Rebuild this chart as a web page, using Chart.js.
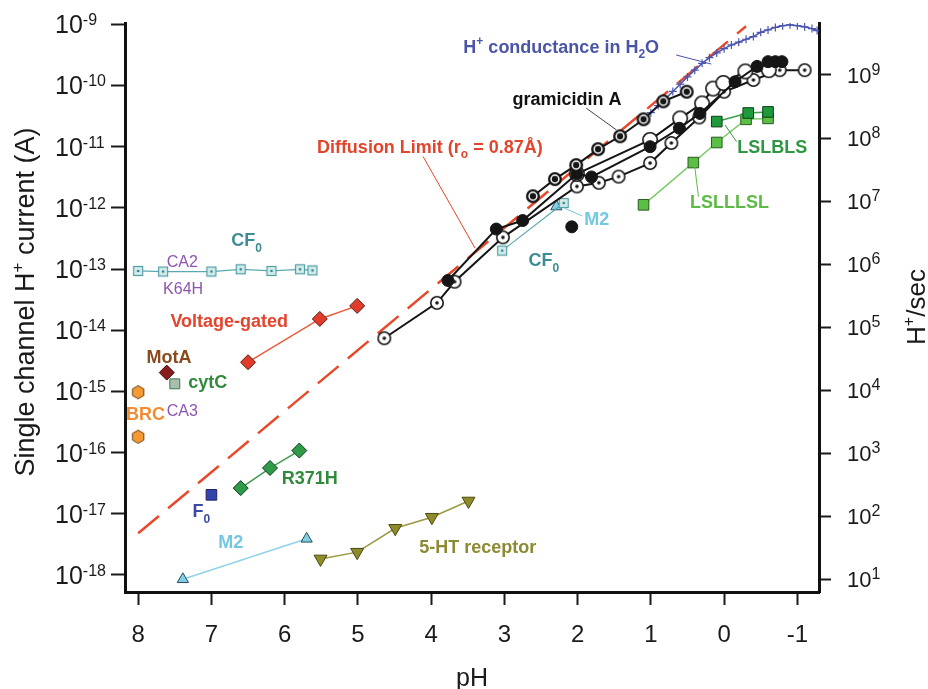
<!DOCTYPE html>
<html>
<head>
<meta charset="utf-8">
<script src="https://cdn.jsdelivr.net/npm/chart.js@4.4.0/dist/chart.umd.min.js"></script>
<style>html,body{margin:0;padding:0;background:#fff}</style>
</head>
<body>
<canvas id="myChart" width="928" height="689"></canvas>
<script>
// axes
const phTicks = [8, 7, 6, 5, 4, 3, 2, 1, 0, -1];
const ampExps = [-18, -17, -16, -15, -14, -13, -12, -11, -10, -9];
const rateExps = [1, 2, 3, 4, 5, 6, 7, 8, 9];

// series: pH and single channel current (A)
const cf0PH = [8.0, 7.66, 7.0, 6.6, 6.18, 5.79, 5.62];
const cf0Amp = [9.3e-14, 9.1e-14, 9.1e-14, 9.9e-14, 9.3e-14, 9.9e-14, 9.5e-14];
const cf0AcidPH = [3.03, 2.19];
const cf0AcidAmp = [2.0e-13, 1.2e-12];
const voltPH = [6.5, 5.52, 5.01];
const voltAmp = [3.0e-15, 1.53e-14, 2.5e-14];
const motaPH = [7.61];
const motaAmp = [2.03e-15];
const cytcPH = [7.5];
const cytcAmp = [1.33e-15];
const brcPH = [8.0, 8.0];
const brcAmp = [9.7e-16, 1.82e-16];
const f0PH = [7.0];
const f0Amp = [2.04e-17];
const r371hPH = [6.6, 6.2, 5.8];
const r371hAmp = [2.63e-17, 5.6e-17, 1.08e-16];
const m2PH = [7.39, 5.7];
const m2Amp = [8.5e-19, 3.9e-18];
const m2AcidPH = [2.29];
const m2AcidAmp = [1.05e-12];
const htPH = [5.51, 5.01, 4.49, 3.99, 3.49];
const htAmp = [1.83e-18, 2.36e-18, 5.8e-18, 8.8e-18, 1.62e-17];
const diffPH = [8.0, -0.3];
const diffAmp = [4.8e-18, 9.3e-10];
const waterPH = [1.0, 0.9, 0.8, 0.7, 0.6, 0.5, 0.4, 0.3, 0.2, 0.1, 0.0, -0.1, -0.2, -0.3, -0.4, -0.5, -0.6, -0.7, -0.8, -0.9, -1.0, -1.1, -1.2, -1.27];
const waterAmp = [3.6e-11, 4.7e-11, 6.1e-11, 8.0e-11, 1.05e-10, 1.38e-10, 1.78e-10, 2.3e-10, 2.85e-10, 3.4e-10, 4.0e-10, 4.6e-10, 5.1e-10, 5.7e-10, 6.3e-10, 7.4e-10, 8.1e-10, 8.9e-10, 9.5e-10, 9.8e-10, 9.5e-10, 9.1e-10, 8.5e-10, 7.9e-10];
const gramPH = [2.61, 2.31, 2.02, 1.72, 1.42, 1.10, 0.83, 0.51];
const gramAmp = [1.55e-12, 2.95e-12, 5.0e-12, 9.1e-12, 1.48e-11, 2.8e-11, 5.5e-11, 7.9e-11];
const gramDotPH = [4.64, 3.92, 3.68, 3.02, 2.01, 1.71, 1.44, 1.01, 0.72, 0.34, 0.0, -0.4, -0.76, -1.1];
const gramDotAmp = [7.4e-15, 2.8e-14, 6.2e-14, 3.3e-13, 2.24e-12, 2.57e-12, 3.24e-12, 5.4e-12, 1.15e-11, 3.0e-11, 7.9e-11, 1.23e-10, 1.78e-10, 1.78e-10];
const gramFillPH = [3.77, 3.11, 2.75, 2.01, 1.81, 1.01, 0.61, 0.33, -0.15, -0.45, -0.6, -0.7, -0.79];
const gramFillAmp = [6.5e-14, 4.5e-13, 6.2e-13, 3.6e-12, 3.2e-12, 1.0e-11, 2.0e-11, 3.5e-11, 1.15e-10, 2.05e-10, 2.45e-10, 2.45e-10, 2.45e-10];
const gramOpenPH = [2.01, 1.01, 0.6, 0.3, 0.15, 0.01, -0.29, -0.61];
const gramOpenAmp = [3.6e-12, 1.29e-11, 2.9e-11, 5.1e-11, 8.9e-11, 1.1e-10, 1.7e-10, 1.78e-10];
const gramLonePH = [2.08];
const gramLoneAmp = [4.9e-13];
const lslllslPH = [1.1, 0.42, 0.1, -0.3, -0.6];
const lslllslAmp = [1.12e-12, 5.5e-12, 1.17e-11, 2.8e-11, 2.9e-11];
const lslblsPH = [0.1, -0.33, -0.6];
const lslblsAmp = [2.57e-11, 3.55e-11, 3.7e-11];

const FONT = '"Liberation Sans", Arial, Helvetica, sans-serif';

function pts(ph, amp) {
  return ph.map((v, i) => ({ x: v, y: amp[i] }));
}

function mk(size, draw) {
  const c = document.createElement('canvas');
  c.width = c.height = size;
  draw(c.getContext('2d'), size / 2);
  return c;
}

const bullseye = mk(16, (g, c) => {
  g.fillStyle = '#151515'; g.beginPath(); g.arc(c, c, 7, 0, 2 * Math.PI); g.fill();
  g.strokeStyle = '#fff'; g.lineWidth = 1.5; g.beginPath(); g.arc(c, c, 3.9, 0, 2 * Math.PI); g.stroke();
});
const dotOpen = mk(16, (g, c) => {
  g.fillStyle = '#fff'; g.strokeStyle = '#151515'; g.lineWidth = 1.6;
  g.beginPath(); g.arc(c, c, 6.2, 0, 2 * Math.PI); g.fill(); g.stroke();
  g.fillStyle = '#151515'; g.beginPath(); g.arc(c, c, 1.8, 0, 2 * Math.PI); g.fill();
});
const plainOpen = mk(18, (g, c) => {
  g.fillStyle = '#fff'; g.strokeStyle = '#151515'; g.lineWidth = 1.6;
  g.beginPath(); g.arc(c, c, 7.2, 0, 2 * Math.PI); g.fill(); g.stroke();
});
const cf0Pt = mk(12, (g, c) => {
  g.fillStyle = '#d4ecec'; g.strokeStyle = '#4f9ea6'; g.lineWidth = 1.2;
  g.fillRect(1.5, 1.5, 9, 9); g.strokeRect(1.5, 1.5, 9, 9);
  g.fillStyle = '#2f7f88'; g.beginPath(); g.arc(c, c, 1.3, 0, 2 * Math.PI); g.fill();
});
const hexPt = mk(16, (g, c) => {
  g.fillStyle = '#f39a32'; g.strokeStyle = '#6a4010'; g.lineWidth = 1;
  g.beginPath();
  for (let k = 0; k < 6; k++) {
    const a = Math.PI / 6 + k * Math.PI / 3;
    const px = c + 6.6 * Math.cos(a), py = c + 6.6 * Math.sin(a);
    if (k === 0) g.moveTo(px, py); else g.lineTo(px, py);
  }
  g.closePath(); g.fill(); g.stroke();
});

function series(ph, amp, o) {
  return Object.assign({
    data: pts(ph, amp), showLine: true, borderWidth: 1.5, pointRadius: 6,
    pointBorderWidth: 1
  }, o);
}

const datasets = [
  series(gramPH, gramAmp, { borderColor: '#151515', borderWidth: 2, pointStyle: bullseye }),
  series(gramFillPH, gramFillAmp, { borderColor: '#151515', borderWidth: 2, pointStyle: 'circle', pointRadius: 6, pointBackgroundColor: '#151515', pointBorderColor: '#151515' }),
  series(gramOpenPH, gramOpenAmp, { borderColor: '#151515', borderWidth: 2, pointStyle: plainOpen }),
  series(gramDotPH, gramDotAmp, { borderColor: '#151515', borderWidth: 2, pointStyle: dotOpen }),
  series(gramLonePH, gramLoneAmp, { showLine: false, pointStyle: 'circle', pointRadius: 6, pointBackgroundColor: '#151515', pointBorderColor: '#151515' }),
  series(lslblsPH, lslblsAmp, { borderColor: '#3aa050', pointStyle: 'rect', pointRadius: 7.5, pointBackgroundColor: '#1f9a3a', pointBorderColor: '#0c3f18' }),
  series(lslllslPH, lslllslAmp, { borderColor: '#7ccc6a', pointStyle: 'rect', pointRadius: 7.5, pointBackgroundColor: '#5cbf45', pointBorderColor: '#2a5a20' }),
  series(waterPH, waterAmp, { borderColor: '#4a55b0', pointStyle: 'cross', pointRadius: 4, pointBorderColor: '#4a55b0', pointBorderWidth: 1.2 }),
  series(cf0AcidPH, cf0AcidAmp, { borderColor: '#5aa8b0', borderWidth: 1.2, pointStyle: cf0Pt }),
  series(m2AcidPH, m2AcidAmp, { showLine: false, pointStyle: 'triangle', pointRadius: 6.5, pointBackgroundColor: '#7fcfe6', pointBorderColor: '#2a4a5a' }),
  series(cf0PH, cf0Amp, { borderColor: '#5aa8b0', borderWidth: 1.2, pointStyle: cf0Pt }),
  series(voltPH, voltAmp, { borderColor: '#ea5a3c', pointStyle: 'rectRot', pointRadius: 7.5, pointBackgroundColor: '#e03b2b', pointBorderColor: '#5a1a10' }),
  series(motaPH, motaAmp, { showLine: false, pointStyle: 'rectRot', pointRadius: 7.5, pointBackgroundColor: '#8a1c1c', pointBorderColor: '#3a0a0a' }),
  series(cytcPH, cytcAmp, { showLine: false, pointStyle: 'rect', pointRadius: 7, pointBackgroundColor: '#a8bfb0', pointBorderColor: '#3a7a4a' }),
  series(brcPH, brcAmp, { showLine: false, pointStyle: hexPt }),
  series(f0PH, f0Amp, { showLine: false, pointStyle: 'rect', pointRadius: 7.5, pointBackgroundColor: '#3344aa', pointBorderColor: '#222266' }),
  series(r371hPH, r371hAmp, { borderColor: '#3f9a4f', pointStyle: 'rectRot', pointRadius: 7.5, pointBackgroundColor: '#2f9a48', pointBorderColor: '#0f3a1a' }),
  series(m2PH, m2Amp, { borderColor: '#8fd3ea', pointStyle: 'triangle', pointRadius: 6.5, pointBackgroundColor: '#7fcfe6', pointBorderColor: '#2a4a5a' }),
  series(htPH, htAmp, { borderColor: '#9a9a40', pointStyle: 'triangle', pointRotation: 180, pointRadius: 7.5, pointBackgroundColor: '#8e8c2a', pointBorderColor: '#4a4a10' }),
  series(diffPH, diffAmp, { borderColor: '#e8492a', borderWidth: 2.5, borderDash: [27, 12], pointRadius: 0 })
];

// text labels and leader lines, placed at (pH, current)
const labels = [
  { t: [['H', 18, 0], ['+', 12, -8], [' conductance in H', 18, 0], ['2', 12, 5], ['O', 18, 0]], ph: 3.56, amp: 3.43e-10, c: '#4a55a8' },
  { t: [['gramicidin A', 18, 0]], ph: 2.89, amp: 4.8e-11, c: '#111' },
  { t: [['Diffusion Limit (r', 18, 0], ['o', 12, 5], [' = 0.87\u00C5)', 18, 0]], ph: 5.56, amp: 8.0e-12, c: '#e2452c' },
  { t: [['M2', 18, 0]], ph: 1.91, amp: 5.2e-13, c: '#72c8e2' },
  { t: [['CF', 18, 0], ['0', 12, 6]], ph: 2.67, amp: 1.12e-13, c: '#3d8c95' },
  { t: [['CF', 18, 0], ['0', 12, 6]], ph: 6.73, amp: 2.39e-13, c: '#3d8c95' },
  { t: [['CA2', 16, 0]], ph: 7.61, amp: 1.09e-13, c: '#8d55b0', normal: true },
  { t: [['K64H', 16, 0]], ph: 7.66, amp: 3.87e-14, c: '#8d55b0', normal: true },
  { t: [['Voltage-gated', 18, 0]], ph: 7.56, amp: 1.12e-14, c: '#e4432c' },
  { t: [['MotA', 18, 0]], ph: 7.885, amp: 2.96e-15, c: '#8a4a1c' },
  { t: [['cytC', 18, 0]], ph: 7.317, amp: 1.13e-15, c: '#2f8a3c' },
  { t: [['BRC', 18, 0]], ph: 8.168, amp: 3.42e-16, c: '#f28c34' },
  { t: [['CA3', 16, 0]], ph: 7.61, amp: 3.98e-16, c: '#8d55b0', normal: true },
  { t: [['R371H', 18, 0]], ph: 6.04, amp: 3.08e-17, c: '#2f8a3c' },
  { t: [['F', 18, 0], ['0', 12, 6]], ph: 7.257, amp: 9.0e-18, c: '#3b4aa2' },
  { t: [['M2', 18, 0]], ph: 6.907, amp: 2.74e-18, c: '#72c8e2' },
  { t: [['5-HT receptor', 18, 0]], ph: 4.162, amp: 2.27e-18, c: '#8c8a32' },
  { t: [['LSLBLS', 18, 0]], ph: -0.18, amp: 7.8e-12, c: '#2f9643' },
  { t: [['LSLLLSL', 18, 0]], ph: 0.465, amp: 9.8e-13, c: '#5dbb45' }
];
const leaders = [
  { a: [0.655, 3.15e-10], b: [0.175, 2.24e-10], c: '#4a55a8' },
  { a: [1.88, 4.24e-11], b: [1.47, 1.88e-11], c: '#444' },
  { a: [4.11, 6.9e-12], b: [3.40, 2.19e-13], c: '#e2452c' },
  { a: [2.18, 9.9e-13], b: [1.94, 7.4e-13], c: '#72c8e2' },
  { a: [-0.17, 1.21e-11], b: [-0.013, 2.26e-11], c: '#2f9643' },
  { a: [0.35, 1.52e-12], b: [0.40, 4.7e-12], c: '#5dbb45' }
];

function rich(ctx, parts, x, y, o) {
  const w = o.normal ? '' : 'bold ';
  ctx.save();
  ctx.translate(x, y);
  if (o.rot) ctx.rotate(o.rot);
  ctx.textAlign = 'left';
  ctx.textBaseline = 'alphabetic';
  let total = 0;
  const segs = parts.map(p => {
    ctx.font = w + p[1] + 'px ' + FONT;
    const wd = ctx.measureText(p[0]).width;
    total += wd;
    return { t: p[0], s: p[1], dy: p[2], wd };
  });
  let cx = o.align === 'center' ? -total / 2 : 0;
  ctx.fillStyle = o.color;
  segs.forEach(s => {
    ctx.font = w + s.s + 'px ' + FONT;
    ctx.fillText(s.t, cx, s.dy);
    cx += s.wd;
  });
  ctx.restore();
}

const overlay = {
  id: 'overlay',
  afterDraw(chart) {
    const { ctx } = chart;
    const { x, y, y2 } = chart.scales;
    const tc = '#1a1a1a';
    ampExps.forEach(e => {
      const py = y.getPixelForValue(Math.pow(10, e));
      rich(ctx, [['10', 25, 0], [String(e), 16, -8]], 55, py + 9, { color: tc, normal: true });
    });
    rateExps.forEach(e => {
      const py = y2.getPixelForValue(Math.pow(10, e));
      rich(ctx, [['10', 22, 0], [String(e), 16, -8]], 847, py + 8, { color: tc, normal: true });
    });
    phTicks.forEach(v => {
      rich(ctx, [[String(v), 24, 0]], x.getPixelForValue(v), 642, { color: tc, normal: true, align: 'center' });
    });
    rich(ctx, [['pH', 25, 0]], (chart.chartArea.left + chart.chartArea.right) / 2, 686, { color: tc, normal: true, align: 'center' });
    rich(ctx, [['Single channel H', 27, 0], ['+', 17, -11], [' current (A)', 27, 0]], 34, 302, { color: tc, normal: true, align: 'center', rot: -Math.PI / 2 });
    rich(ctx, [['H', 26, 0], ['+', 16, -11], ['/sec', 26, 0]], 925, 307, { color: tc, normal: true, align: 'center', rot: -Math.PI / 2 });

    ctx.save();
    ctx.lineWidth = 1;
    leaders.forEach(l => {
      ctx.strokeStyle = l.c;
      ctx.beginPath();
      ctx.moveTo(x.getPixelForValue(l.a[0]), y.getPixelForValue(l.a[1]));
      ctx.lineTo(x.getPixelForValue(l.b[0]), y.getPixelForValue(l.b[1]));
      ctx.stroke();
    });
    ctx.restore();
    labels.forEach(l => {
      rich(ctx, l.t, x.getPixelForValue(l.ph), y.getPixelForValue(l.amp), { color: l.c, normal: l.normal });
    });
  }
};

function axisGrid(len) {
  return { drawOnChartArea: false, drawTicks: true, tickLength: len, tickWidth: 2, color: '#1a1a1a' };
}

new Chart(document.getElementById('myChart'), {
  type: 'scatter',
  data: { datasets },
  options: {
    responsive: false,
    animation: false,
    events: [],
    layout: { padding: { top: 23, left: 0, right: 0, bottom: 0 } },
    plugins: { legend: { display: false }, tooltip: { enabled: false } },
    scales: {
      x: {
        type: 'linear', position: 'bottom', reverse: true, min: -1.296, max: 8.18,
        afterBuildTicks: s => { s.ticks = phTicks.map(v => ({ value: v })); },
        afterFit: s => { s.height = 97; },
        ticks: { display: false },
        grid: axisGrid(13),
        border: { display: true, width: 3, color: '#111' }
      },
      y: {
        type: 'logarithmic', position: 'left', min: 5.27e-19, max: 1.05e-9,
        afterBuildTicks: s => { s.ticks = ampExps.map(e => ({ value: Math.pow(10, e) })); },
        afterFit: s => { s.width = 125; },
        ticks: { display: false },
        grid: axisGrid(14),
        border: { display: true, width: 3, color: '#111' }
      },
      y2: {
        type: 'logarithmic', position: 'right', min: 6.29, max: 6.68e9,
        afterBuildTicks: s => { s.ticks = rateExps.map(e => ({ value: Math.pow(10, e) })); },
        afterFit: s => { s.width = 109; },
        ticks: { display: false },
        grid: axisGrid(12),
        border: { display: true, width: 3, color: '#111' }
      }
    }
  },
  plugins: [overlay]
});
</script>
</body>
</html>
